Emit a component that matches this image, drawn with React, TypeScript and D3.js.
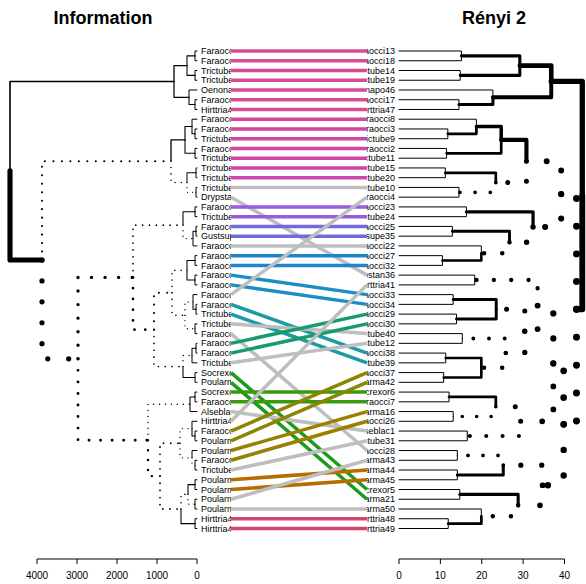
import React from 'react';
import * as d3 from 'd3';

// leaf order of the left tree (Information)
const leftLabels = [
  'Faraocci13', 'Faraocci18', 'Trictube14', 'Trictube19', 'Oenonapo46', 'Faraocci17', 'Hirttria47',
  'Faraocci8', 'Faraocci3', 'Trictube9', 'Faraocci2', 'Trictube11', 'Trictube15', 'Trictube20',
  'Trictube10', 'Drypstan36', 'Faraocci23', 'Trictube24', 'Faraocci25', 'Gustsupe35', 'Faraocci22',
  'Faraocci27', 'Faraocci32', 'Faraocci33', 'Faraocci34', 'Faraocci4', 'Faraocci38', 'Trictube39',
  'Trictube40', 'Faraocci28', 'Faraocci29', 'Faraocci30', 'Trictube12', 'Socrexor5', 'Poularma21',
  'Socrexor6', 'Faraocci7', 'Alseblac1', 'Hirttria41', 'Faraocci37', 'Poularma42', 'Poularma16',
  'Faraocci26', 'Trictube31', 'Poularma44', 'Poularma45', 'Poularma43', 'Poularma50', 'Hirttria48',
  'Hirttria49',
];

// leaf order of the right tree (Rényi 2)
const rightLabels = [
  'Faraocci13', 'Faraocci18', 'Trictube14', 'Trictube19', 'Oenonapo46', 'Faraocci17', 'Hirttria47',
  'Faraocci8', 'Faraocci3', 'Trictube9', 'Faraocci2', 'Trictube11', 'Trictube15', 'Trictube20',
  'Trictube10', 'Faraocci4', 'Faraocci23', 'Trictube24', 'Faraocci25', 'Gustsupe35', 'Faraocci22',
  'Faraocci27', 'Faraocci32', 'Drypstan36', 'Hirttria41', 'Faraocci33', 'Faraocci34', 'Faraocci29',
  'Faraocci30', 'Trictube40', 'Trictube12', 'Faraocci38', 'Trictube39', 'Faraocci37', 'Poularma42',
  'Socrexor6', 'Faraocci7', 'Poularma16', 'Faraocci26', 'Alseblac1', 'Trictube31', 'Faraocci28',
  'Poularma43', 'Poularma44', 'Poularma45', 'Socrexor5', 'Poularma21', 'Poularma50', 'Hirttria48',
  'Hirttria49',
];

// [height, child, child]; a number is a 1-based leaf position
const leftTree: any = [4675,
  [575, [250, [50, 1, 2], [50, 3, 4]], [200, 5, [50, 6, 7]]],
  [3875,
    [650, [300, [125, 8, [50, 9, 10]], [50, 11, 12]], [250, [25, 13, 14], [25, 15, 16]]],
    [2975,
      [1600,
        [350, [50, 17, 18], [100, [25, 19, 20], 21]],
        [1075,
          [625, [250, [50, 22, 23], [50, 24, 25]], [300, [100, 26, [25, 27, 28]], [50, 29, 30]]],
          [350, [125, [25, 31, 32], 33], [50, 34, 35]]]],
      [1225,
        [175, [50, 36, 37], 38],
        [925,
          [425, [125, 39, [50, 40, 41]], [125, 42, [50, 43, 44]]],
          [400, [225, [50, 45, 46], [50, 47, 48]], [50, 49, 50]]]]]]];

const rightTree: any = [44.3,
  [36.8, [29.2, [15.1, 1, 2], [14.8, 3, 4]], [22.7, 5, [14.5, 6, 7]]],
  [42.9,
    [39.2,
      [30.8, [24.7, [18.7, 8, [11.8, 9, 10]], [11.5, 11, 12]], [23.4, [11.2, 13, 14], [14.5, 15, 16]]],
      [32.4, [16.3, 17, 18], [26.7, [12.9, 19, 20], [19.9, 21, [10.5, 22, 23]]]]],
    [39.8,
      [37.3,
        [33.5, [18.3, 24, 25],
          [30.4, [23.5, [13.1, 26, 27], [13.9, 28, 29]],
            [25.8, [15.3, 30, 31], [19.9, [11.3, 32, 33], [10.8, 34, 35]]]]],
        [29.4, [23.4, [12.1, 36, 37], [13.1, 38, 39]], [16.5, 40, 41]]],
      [34.7,
        [25.2, [14.1, 42, 43], [14.1, 44, 45]],
        [28.8, [14.7, 46, 47], [19.9, 48, [11.9, 49, 50]]]]]]];

// common-subtree group of each left leaf (0 = no common subtree)
const lineGroups = [
  1, 1, 1, 1, 1, 1, 1, 2, 2, 2, 2, 2, 3, 3, 0, 0, 4, 4, 5, 5, 0, 6, 6, 7, 7,
  0, 8, 8, 0, 0, 9, 9, 0, 10, 10, 11, 11, 0, 0, 12, 12, 13, 13, 0, 14, 14, 0, 0, 15, 15,
];

const leftTicks = [0, 1000, 2000, 3000, 4000];
const rightTicks = [0, 10, 20, 30, 40];

const palette = ['#BEBEBE', '#D84A94', '#D545A0', '#CE46AE', '#9A5CD8', '#6E6CDA', '#1E84CC',
  '#1A8FC4', '#1B9AA4', '#189B6C', '#1E9B1E', '#3A9A0E', '#8A8600', '#9A8000', '#B86C00', '#D4466E'];

type TNode = { h: number; y: number; names: string[]; kids: TNode[] };

function build(t: any, labels: string[], y: (i: number) => number): TNode {
  if (typeof t === 'number') return { h: 0, y: y(t), names: [labels[t - 1]], kids: [] };
  const a = build(t[1], labels, y);
  const b = build(t[2], labels, y);
  return { h: t[0], y: (a.y + b.y) / 2, names: [...a.names, ...b.names], kids: [a, b] };
}

const keyOf = (n: TNode) => [...n.names].sort().join('|');

function clusterKeys(n: TNode, set: Set<string>) {
  if (n.kids.length) {
    set.add(keyOf(n));
    n.kids.forEach(k => clusterKeys(k, set));
  }
  return set;
}

// branches not shared with the other tree are drawn dotted
function edges(n: TNode, x: (h: number) => number, other: Set<string>, lwd: (h: number) => number, out: any[] = []) {
  n.kids.forEach(k => {
    const w = lwd(k.h);
    const dotted = k.kids.length > 0 && !other.has(keyOf(k));
    out.push({ d: `M${x(n.h)},${n.y}V${k.y}H${x(k.h)}`, w, dotted });
    edges(k, x, other, lwd, out);
  });
  return out;
}

const App = () => {
  const width = 586;
  const height = 584;
  const font = 'Liberation Sans, Arial, Helvetica, sans-serif';

  const yScale = d3.scaleLinear().domain([1, 50]).range([51, 528.5]);
  const xLeft = d3.scaleLinear().domain([0, 4000]).range([197, 37]);
  const xRight = d3.scaleLinear().domain([0, 40]).range([399, 564.5]);

  const left = build(leftTree, leftLabels, yScale);
  const right = build(rightTree, rightLabels, yScale);
  const leftKeys = clusterKeys(left, new Set());
  const rightKeys = clusterKeys(right, new Set());

  const lwdLeft = (h: number) => 1 + 5 * (h / leftTree[0]);
  const lwdRight = (h: number) => 1 + 5 * Math.pow(h / rightTree[0], 0.8);

  const leftEdges = edges(left, xLeft, rightKeys, lwdLeft);
  const rightEdges = edges(right, xRight, leftKeys, lwdRight);

  const lineL = 231;
  const lineR = 367;
  const axisY = 559;

  const drawEdge = (e: any, i: number) => (
    <path key={i} d={e.d} fill="none" stroke="black"
      strokeWidth={e.dotted ? e.w * 1.25 : e.w}
      strokeLinecap="round" strokeLinejoin="round"
      strokeDasharray={e.dotted ? `0 ${5 * e.w}` : undefined} />
  );

  const axis = (scale: any, ticks: number[]) => (
    <g>
      <line x1={scale(ticks[0])} x2={scale(ticks[ticks.length - 1])} y1={axisY} y2={axisY} stroke="black" />
      {ticks.map(t => (
        <g key={t}>
          <line x1={scale(t)} x2={scale(t)} y1={axisY} y2={axisY + 5} stroke="black" />
          <text x={scale(t)} y={axisY + 20} textAnchor="middle" fontSize={10}>{t}</text>
        </g>
      ))}
    </g>
  );

  return (
    <svg width={width} height={height} style={{ position: 'absolute', left: 0, top: 0, background: 'white' }}
      fontFamily={font}>
      <defs>
        <clipPath id="clipL"><rect x={0} y={0} width={lineL} height={height} /></clipPath>
        <clipPath id="clipR"><rect x={lineR} y={0} width={width - lineR} height={height} /></clipPath>
      </defs>

      <text x={103} y={24} textAnchor="middle" fontSize={18} fontWeight="bold">Information</text>
      <text x={494} y={24} textAnchor="middle" fontSize={18} fontWeight="bold">Rényi 2</text>

      <g clipPath="url(#clipL)">
        {leftLabels.map((l, i) => (
          <text key={l} x={201} y={yScale(i + 1)} dy="0.35em" fontSize={9}>{l}</text>
        ))}
      </g>
      <g clipPath="url(#clipR)">
        {rightLabels.map((l, i) => (
          <text key={l} x={395} y={yScale(i + 1)} dy="0.35em" fontSize={9} textAnchor="end">{l}</text>
        ))}
      </g>

      {leftLabels.map((l, i) => (
        <line key={l} x1={lineL} x2={lineR} y1={yScale(i + 1)} y2={yScale(rightLabels.indexOf(l) + 1)}
          stroke={palette[lineGroups[i]]} strokeWidth={3.5} />
      ))}

      {leftEdges.map(drawEdge)}
      {rightEdges.map(drawEdge)}

      {axis(xLeft, leftTicks)}
      {axis(xRight, rightTicks)}
    </svg>
  );
};

export default App;
